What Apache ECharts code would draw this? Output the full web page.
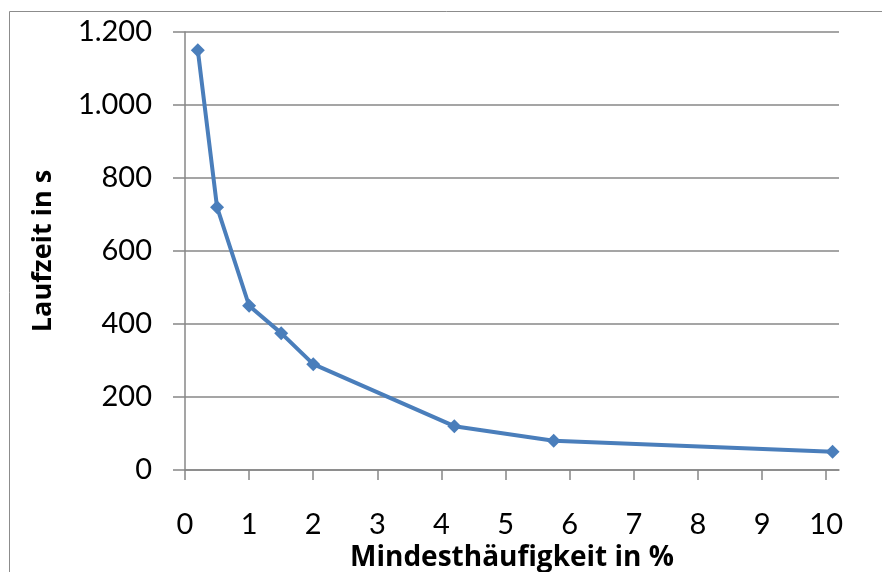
<!DOCTYPE html>
<html>
<head>
<meta charset="utf-8">
<script src="https://cdn.jsdelivr.net/npm/echarts@6/dist/echarts.min.js"></script>
<style>
  html, body { margin: 0; padding: 0; background: #ffffff; }
  #chart { width: 882px; height: 572px; }
</style>
</head>
<body>
<div id="chart"></div>
<script>
// Minimum support (%) versus runtime (s)
const minSupport = [0.2, 0.5, 1, 1.5, 2, 4.2, 5.75, 10.1];
const runtime = [1150, 720, 450, 375, 290, 120, 80, 50];
const xTicks = [0, 1, 2, 3, 4, 5, 6, 7, 8, 9, 10];
const xTitle = 'Mindesthäufigkeit in %';
const yTitle = 'Laufzeit in s';

const FONT = 'Lato, "Open Sans", sans-serif';
const TITLE_FONT = '"Open Sans", Lato, sans-serif';
const GRAY = '#878787';
const BLUE = '#4a7ebb';

// German thousands separator: 1200 -> "1.200"
function deNumber(v) {
  return String(Math.round(v)).replace(/\B(?=(\d{3})+(?!\d))/g, '.');
}

const chart = echarts.init(document.getElementById('chart'), null, { renderer: 'canvas' });

chart.setOption({
  animation: false,
  backgroundColor: '#ffffff',
  graphic: [{
    type: 'rect',
    shape: { x: 9.5, y: 11.5, width: 1000, height: 1000 },
    style: { fill: 'none', stroke: '#8c8c8c', lineWidth: 1 },
    silent: true,
    z: -1
  }],
  grid: { left: 185, top: 32, right: 43, bottom: 102, containLabel: false, outerBoundsMode: 'none' },
  xAxis: {
    type: 'value',
    min: 0,
    max: 10.2,
    interval: 1,
    name: xTitle,
    nameLocation: 'middle',
    nameGap: 66,
    nameTextStyle: { fontFamily: TITLE_FONT, fontWeight: 'bold', fontSize: 28, color: '#000' },
    axisLine: { show: true, onZero: false, lineStyle: { color: GRAY, width: 1.5 } },
    axisTick: { show: true, inside: false, length: 10, customValues: xTicks, lineStyle: { color: GRAY, width: 1.5 } },
    axisLabel: { customValues: xTicks, margin: 40, fontFamily: FONT, fontSize: 29, color: '#000' },
    splitLine: { show: false }
  },
  yAxis: {
    type: 'value',
    min: 0,
    max: 1200,
    interval: 200,
    name: yTitle,
    nameLocation: 'middle',
    nameGap: 128,
    nameRotate: 90,
    nameTextStyle: { fontFamily: TITLE_FONT, fontWeight: 'bold', fontSize: 27, color: '#000' },
    axisLine: { show: true, lineStyle: { color: GRAY, width: 1.5 } },
    axisTick: { show: true, inside: false, length: 12, lineStyle: { color: GRAY, width: 1.5 } },
    axisLabel: { margin: 33, fontFamily: FONT, fontSize: 29, color: '#000', formatter: deNumber },
    splitLine: { show: true, lineStyle: { color: GRAY, width: 1.5 } }
  },
  series: [{
    type: 'line',
    data: minSupport.map((x, i) => [x, runtime[i]]),
    symbol: 'diamond',
    symbolSize: 14,
    showAllSymbol: true,
    lineStyle: { color: BLUE, width: 4 },
    itemStyle: { color: BLUE, borderWidth: 0 },
    emphasis: { disabled: true }
  }]
});
</script>
</body>
</html>
